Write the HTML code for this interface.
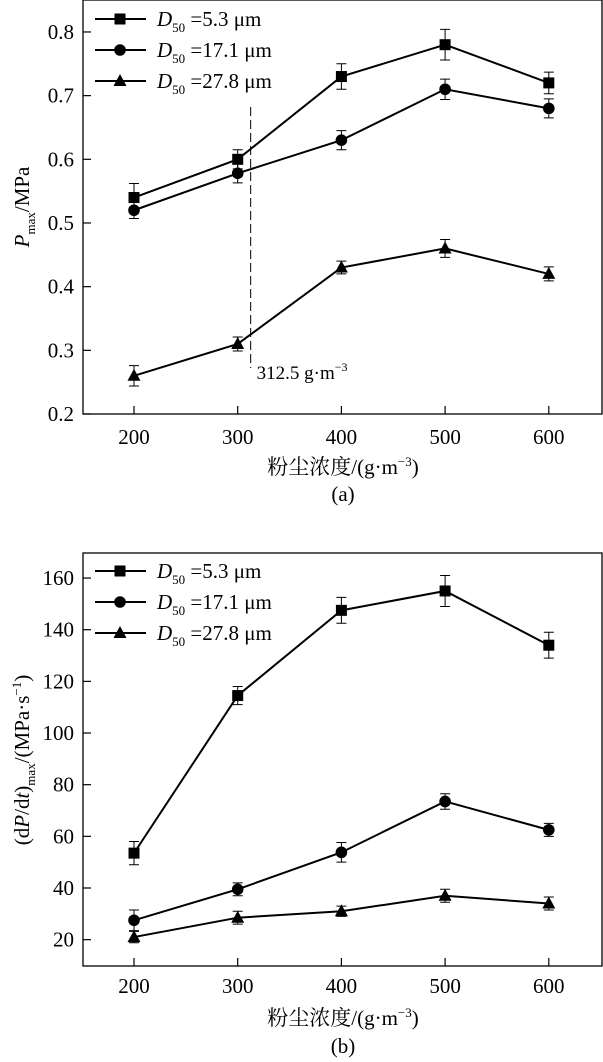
<!DOCTYPE html>
<html><head><meta charset="utf-8"><style>
body{margin:0;background:#fff;}
svg{display:block;font-family:"Liberation Serif","Noto Serif CJK SC",serif;}
</style></head><body>
<svg id="chart" width="603" height="1062"></svg>
<script>
const categories=[200,300,400,500,600];
const aSquare=[0.54,0.60,0.73,0.78,0.72];
const aSquareErr=[0.022,0.015,0.02,0.024,0.017];
const aCircle=[0.52,0.578,0.63,0.71,0.68];
const aCircleErr=[0.013,0.015,0.015,0.016,0.015];
const aTri=[0.26,0.31,0.43,0.46,0.42];
const aTriErr=[0.016,0.011,0.01,0.014,0.011];
const aTicks=[0.2,0.3,0.4,0.5,0.6,0.7,0.8];
const bSquare=[53.5,114.5,147.5,155,134];
const bSquareErr=[4.5,3.5,5,6,5];
const bCircle=[27.5,39.5,53.8,73.5,62.5];
const bCircleErr=[4,2.5,3.8,3,2.5];
const bTri=[21,28.5,31,37,34];
const bTriErr=[2.2,2.5,2,2.5,2.5];
const bTicks=[20,40,60,80,100,120,140,160];
const xTicks=[200,300,400,500,600];
const NS='http://www.w3.org/2000/svg';
const svg=document.getElementById('chart');
function mk(tag,attrs,parent,text){const e=document.createElementNS(NS,tag);for(const k in attrs)e.setAttribute(k,attrs[k]);if(text!==undefined)e.textContent=text;(parent||svg).appendChild(e);return e;}
const xs=v=>134+(v-200)*1.037;
function panel(id,top,bottom,ymin,ymax,ticks,fmt,series,tickLblY,xLblY,capY,cap,ylabel,legY){
  const g=mk('g',{});
  
  
  const ys=v=>bottom-(v-ymin)/(ymax-ymin)*(bottom-top);
  const frame=mk('rect',{x:83,y:top,width:519,height:bottom-top,fill:'none',stroke:'#000','stroke-width':1.3},g);
  
  
  ticks.forEach(t=>{
    const y=ys(t);
    mk('line',{x1:83,x2:91,y1:y,y2:y,stroke:'#000','stroke-width':1.2},g);
    const l=mk('text',{x:74,y:y+7,'text-anchor':'end','font-size':21},g,fmt(t));
    
    
  });
  xTicks.forEach(t=>{
    const x=xs(t);
    mk('line',{x1:x,x2:x,y1:bottom,y2:bottom-8,stroke:'#000','stroke-width':1.2},g);
    const l=mk('text',{x:x,y:tickLblY+7,'text-anchor':'middle','font-size':21},g,String(t));
    
    
  });
  const xl=mk('text',{x:343,y:xLblY+8,'text-anchor':'middle','font-size':21},g);
  
  
  xl.innerHTML='粉尘浓度/(g·m<tspan dy="-8" font-size="13">−3</tspan><tspan dy="8">)</tspan>';
  const cp=mk('text',{x:343,y:capY+7,'text-anchor':'middle','font-size':21},g,cap);
  
  
  const yl=mk('text',{transform:'translate(29,'+ylabel.cy+') rotate(-90)','text-anchor':'middle','font-size':21},g);
  
  
  yl.innerHTML=ylabel.html;
  const shapes=['square','circle','triangle'];
  const names=['5.3','17.1','27.8'];
  series.forEach((s,si)=>{
    const sg=mk('g',{},g);
    
    
    const pts=s.vals.map((v,i)=>xs(categories[i])+','+ys(v)).join(' ');
    mk('polyline',{points:pts,fill:'none',stroke:'#000','stroke-width':2},sg);
    s.vals.forEach((v,i)=>{
      const x=xs(categories[i]),y1=ys(v+s.err[i]),y2=ys(v-s.err[i]);
      const eb=mk('path',{d:`M${x},${y1}V${y2}M${x-5},${y1}H${x+5}M${x-5},${y2}H${x+5}`,stroke:'#000','stroke-width':1,fill:'none'},sg);
      
      
      const m=marker(shapes[si],x,ys(v),sg);
      
      
    });
    const ly=legY+si*31;
    const lg=mk('g',{},g);
    
    
    mk('line',{x1:95,x2:146,y1:ly,y2:ly,stroke:'#000','stroke-width':2},lg);
    marker(shapes[si],120,ly,lg);
    const t=mk('text',{x:157,y:ly+7,'font-size':21},lg);
    t.innerHTML='<tspan font-style="italic">D</tspan><tspan dy="6" font-size="13">50</tspan><tspan dy="-6"> =' + names[si] + ' μm</tspan>';
  });
  return {g,ys};
}
function marker(shape,x,y,p){
  if(shape==='square')return mk('rect',{x:x-5.5,y:y-5.5,width:11,height:11,fill:'#000'},p);
  if(shape==='circle')return mk('circle',{cx:x,cy:y,r:5.8,fill:'#000'},p);
  return mk('polygon',{points:`${x},${y-7} ${x+6.5},${y+5} ${x-6.5},${y+5}`,fill:'#000'},p);
}
const A=panel('a',0,414,0.2,0.8502,aTicks,t=>t.toFixed(1),
  [{vals:aSquare,err:aSquareErr},{vals:aCircle,err:aCircleErr},{vals:aTri,err:aTriErr}],
  437,466,494,'(a)',{cy:207,html:'<tspan font-style="italic">P</tspan><tspan dy="6" font-size="13">max</tspan><tspan dy="-6">/MPa</tspan>'},19);
const dash=mk('line',{x1:xs(312.5),x2:xs(312.5),y1:107,y2:368,stroke:'#000','stroke-width':1,'stroke-dasharray':'9,4'});


const dl=mk('text',{x:xs(312.5)+6,y:379,'font-size':19});


dl.innerHTML='312.5 g·m<tspan dy="-8" font-size="12">−3</tspan>';
const B=panel('b',553,966,9.8,169.7,bTicks,t=>String(t),
  [{vals:bSquare,err:bSquareErr},{vals:bCircle,err:bCircleErr},{vals:bTri,err:bTriErr}],
  986,1017,1046,'(b)',{cy:760,html:'(d<tspan font-style="italic">P</tspan>/d<tspan font-style="italic">t</tspan>)<tspan dy="6" font-size="13">max</tspan><tspan dy="-6">/(MPa·s</tspan><tspan dy="-8" font-size="13">−1</tspan><tspan dy="8">)</tspan>'},571);
</script>
</body></html>
